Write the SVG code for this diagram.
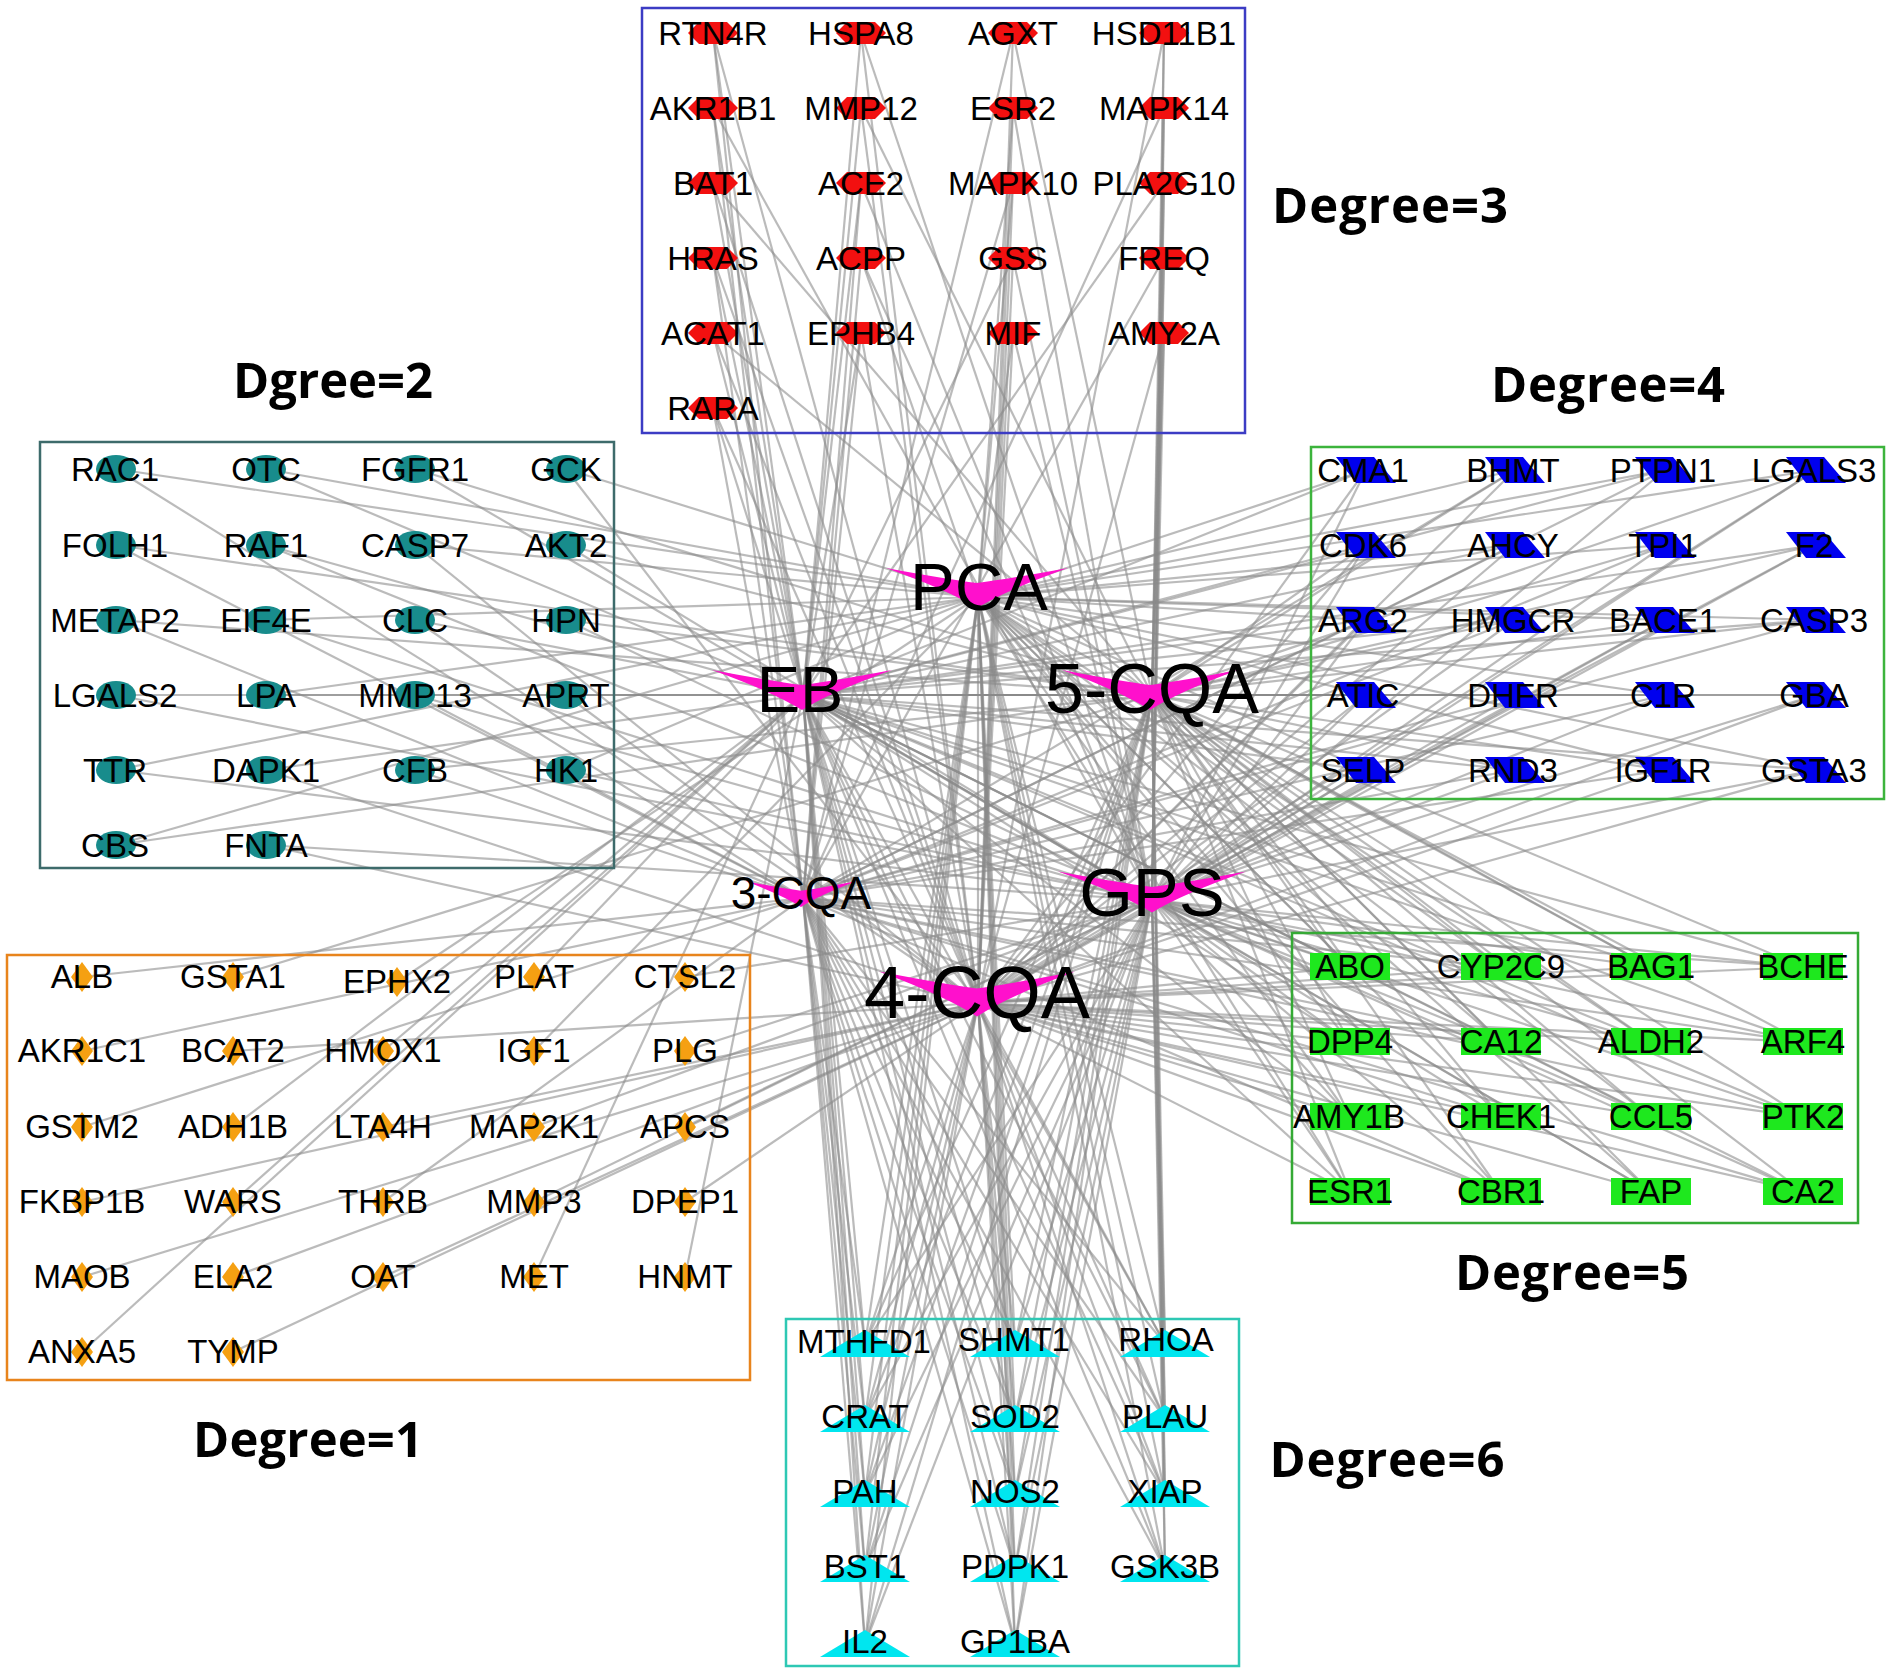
<svg xmlns="http://www.w3.org/2000/svg" xmlns:xlink="http://www.w3.org/1999/xlink" width="1890" height="1669" viewBox="0 0 1890 1669">
<style>
.t{font-family:"Liberation Sans",Arial,sans-serif;font-size:33px;text-anchor:middle;fill:#000}
.h{font-family:"Liberation Sans",Arial,sans-serif;text-anchor:middle;fill:#000}
.d{font-family:"Open Sans","Noto Sans",sans-serif;font-weight:700;font-size:49px;text-anchor:middle;fill:#000}
.box{fill:none;stroke-width:2.5}
#connectors path{fill:none;stroke:#8a8a8a;stroke-opacity:.58;stroke-width:2.2}
.hx{fill:#f21010}.el{fill:#188c8c}.pg{fill:#0000ee}.rc{fill:#1ee81e}.dm{fill:#f5a012}.tr{fill:#00e6ef}.vv{fill:#ff10cc}
</style>
<defs>
<polygon id="hx" points="-25,0 -14,-11 14,-11 25,0 14,11 -14,11"/>
<ellipse id="el" rx="20" ry="14"/>
<polygon id="pg" points="-30,-13 8,-13 30,13 -10,13"/>
<rect id="rc" x="-40" y="-14" width="80" height="27"/>
<polygon id="dm" points="0,-15 11,0 0,15 -11,0"/>
<polygon id="tr" points="0,-27 45,0 -45,0"/>
<path id="vv" d="M-1,-1 Q-0.35,-0.45 0,-0.25 Q0.35,-0.45 1,-1 Q0.32,0.1 0,1 Q-0.32,0.1 -1,-1 Z"/>
</defs>
<rect width="1890" height="1669" fill="#fff"/>
<g id="connectors">
<path d="M978 597L397 982"/><path d="M978 597L534 1051"/><path d="M978 597L116 469"/><path d="M978 597L266 469"/><path d="M978 597L566 469"/><path d="M978 597L415 545"/><path d="M978 597L266 620"/><path d="M978 597L266 695"/><path d="M978 597L116 770"/><path d="M978 597L566 770"/><path d="M978 597L116 845"/><path d="M978 597L1013 108"/><path d="M978 597L1013 183"/><path d="M978 597L861 258"/><path d="M978 597L1013 333"/>
<path d="M978 597L1366 470"/><path d="M978 597L1515 470"/><path d="M978 597L1665 470"/><path d="M978 597L1816 470"/><path d="M978 597L1515 545"/><path d="M978 597L1665 545"/><path d="M978 597L1366 620"/><path d="M978 597L1665 620"/><path d="M978 597L1816 620"/><path d="M978 597L1665 695"/><path d="M978 597L1366 770"/><path d="M978 597L1665 770"/><path d="M978 597L1816 770"/>
<path d="M978 597L1350 967"/><path d="M978 597L1501 967"/><path d="M978 597L1651 967"/><path d="M978 597L1350 1042"/><path d="M978 597L1501 1042"/><path d="M978 597L1651 1042"/><path d="M978 597L1350 1117"/><path d="M978 597L1501 1117"/><path d="M978 597L1651 1117"/><path d="M978 597L1350 1192"/><path d="M978 597L1501 1192"/><path d="M978 597L1651 1192"/>
<path d="M978 597L865 1344"/><path d="M978 597L1015 1344"/><path d="M978 597L1165 1344"/><path d="M978 597L865 1419"/><path d="M978 597L1015 1419"/><path d="M978 597L1165 1419"/><path d="M978 597L865 1494"/><path d="M978 597L1015 1494"/><path d="M978 597L1165 1494"/><path d="M978 597L865 1569"/><path d="M978 597L1015 1569"/><path d="M978 597L1165 1569"/><path d="M978 597L865 1644"/><path d="M978 597L1015 1644"/>
<path d="M978 597L978 1003"/>
<path d="M803 695L534 977"/><path d="M803 695L383 1051"/><path d="M803 695L233 1127"/><path d="M803 695L233 1202"/><path d="M803 695L534 1277"/><path d="M803 695L685 1277"/><path d="M803 695L82 1352"/>
<path d="M803 695L266 469"/><path d="M803 695L266 545"/><path d="M803 695L415 620"/><path d="M803 695L116 695"/><path d="M803 695L266 770"/>
<path d="M803 695L713 33"/><path d="M803 695L861 33"/><path d="M803 695L713 108"/><path d="M803 695L861 108"/><path d="M803 695L713 183"/><path d="M803 695L861 183"/><path d="M803 695L1164 183"/><path d="M803 695L713 258"/><path d="M803 695L1013 258"/><path d="M803 695L713 333"/><path d="M803 695L861 333"/><path d="M803 695L713 408"/>
<path d="M803 695L1366 470"/><path d="M803 695L1665 470"/><path d="M803 695L1366 545"/><path d="M803 695L1515 545"/><path d="M803 695L1816 545"/><path d="M803 695L1366 620"/><path d="M803 695L1515 620"/><path d="M803 695L1816 620"/><path d="M803 695L1366 695"/><path d="M803 695L1515 695"/><path d="M803 695L1816 695"/><path d="M803 695L1366 770"/><path d="M803 695L1515 770"/><path d="M803 695L1816 770"/>
<path d="M803 695L1350 967"/><path d="M803 695L1651 967"/><path d="M803 695L1803 967"/><path d="M803 695L1350 1042"/><path d="M803 695L1651 1042"/><path d="M803 695L1803 1042"/><path d="M803 695L1350 1117"/><path d="M803 695L1651 1117"/><path d="M803 695L1803 1117"/><path d="M803 695L1350 1192"/><path d="M803 695L1651 1192"/><path d="M803 695L1803 1192"/>
<path d="M803 695L865 1344"/><path d="M803 695L1015 1344"/><path d="M803 695L1165 1344"/><path d="M803 695L865 1419"/><path d="M803 695L1015 1419"/><path d="M803 695L1165 1419"/><path d="M803 695L865 1494"/><path d="M803 695L1015 1494"/><path d="M803 695L1165 1494"/><path d="M803 695L865 1569"/><path d="M803 695L1015 1569"/><path d="M803 695L1165 1569"/><path d="M803 695L865 1644"/><path d="M803 695L1015 1644"/>
<path d="M803 695L1152 695"/><path d="M803 695L1152 900"/>
<path d="M1152 695L233 977"/>
<path d="M1152 695L415 469"/><path d="M1152 695L116 545"/><path d="M1152 695L566 545"/><path d="M1152 695L116 620"/><path d="M1152 695L566 620"/><path d="M1152 695L266 695"/><path d="M1152 695L566 695"/><path d="M1152 695L415 770"/><path d="M1152 695L116 845"/>
<path d="M1152 695L1013 33"/><path d="M1152 695L1164 33"/><path d="M1152 695L861 108"/><path d="M1152 695L1164 108"/><path d="M1152 695L713 183"/><path d="M1152 695L1164 183"/><path d="M1152 695L1164 258"/><path d="M1152 695L713 333"/><path d="M1152 695L1164 333"/>
<path d="M1152 695L1515 470"/><path d="M1152 695L1816 470"/><path d="M1152 695L1366 545"/><path d="M1152 695L1665 545"/><path d="M1152 695L1816 545"/><path d="M1152 695L1515 620"/><path d="M1152 695L1665 620"/><path d="M1152 695L1816 620"/><path d="M1152 695L1366 695"/><path d="M1152 695L1515 695"/><path d="M1152 695L1665 695"/><path d="M1152 695L1816 695"/><path d="M1152 695L1515 770"/><path d="M1152 695L1665 770"/>
<path d="M1152 695L1350 967"/><path d="M1152 695L1501 967"/><path d="M1152 695L1651 967"/><path d="M1152 695L1803 967"/><path d="M1152 695L1350 1042"/><path d="M1152 695L1501 1042"/><path d="M1152 695L1651 1042"/><path d="M1152 695L1803 1042"/><path d="M1152 695L1350 1117"/><path d="M1152 695L1501 1117"/><path d="M1152 695L1651 1117"/><path d="M1152 695L1803 1117"/><path d="M1152 695L1350 1192"/><path d="M1152 695L1501 1192"/><path d="M1152 695L1651 1192"/><path d="M1152 695L1803 1192"/>
<path d="M1152 695L865 1344"/><path d="M1152 695L1015 1344"/><path d="M1152 695L1165 1344"/><path d="M1152 695L865 1419"/><path d="M1152 695L1015 1419"/><path d="M1152 695L1165 1419"/><path d="M1152 695L865 1494"/><path d="M1152 695L1015 1494"/><path d="M1152 695L1165 1494"/><path d="M1152 695L865 1569"/><path d="M1152 695L1015 1569"/><path d="M1152 695L1165 1569"/><path d="M1152 695L865 1644"/><path d="M1152 695L1015 1644"/>
<path d="M1152 900L685 977"/><path d="M1152 900L685 1051"/><path d="M1152 900L534 1127"/><path d="M1152 900L685 1127"/><path d="M1152 900L534 1202"/>
<path d="M1152 900L415 469"/><path d="M1152 900L266 545"/><path d="M1152 900L566 545"/><path d="M1152 900L266 620"/><path d="M1152 900L566 620"/><path d="M1152 900L116 695"/><path d="M1152 900L415 695"/><path d="M1152 900L116 770"/><path d="M1152 900L566 770"/><path d="M1152 900L266 845"/>
<path d="M1152 900L861 33"/><path d="M1152 900L1164 33"/><path d="M1152 900L713 108"/><path d="M1152 900L1013 108"/><path d="M1152 900L1164 108"/><path d="M1152 900L861 183"/><path d="M1152 900L1164 183"/><path d="M1152 900L861 258"/><path d="M1152 900L1013 258"/><path d="M1152 900L1164 258"/><path d="M1152 900L1013 333"/><path d="M1152 900L1164 333"/>
<path d="M1152 900L1366 470"/><path d="M1152 900L1665 470"/><path d="M1152 900L1816 470"/><path d="M1152 900L1366 545"/><path d="M1152 900L1665 545"/><path d="M1152 900L1816 545"/><path d="M1152 900L1366 620"/><path d="M1152 900L1665 620"/><path d="M1152 900L1366 695"/><path d="M1152 900L1665 695"/><path d="M1152 900L1816 695"/><path d="M1152 900L1366 770"/><path d="M1152 900L1515 770"/><path d="M1152 900L1816 770"/>
<path d="M1152 900L1350 967"/><path d="M1152 900L1501 967"/><path d="M1152 900L1651 967"/><path d="M1152 900L1803 967"/><path d="M1152 900L1350 1042"/><path d="M1152 900L1501 1042"/><path d="M1152 900L1651 1042"/><path d="M1152 900L1803 1042"/><path d="M1152 900L1350 1117"/><path d="M1152 900L1501 1117"/><path d="M1152 900L1651 1117"/><path d="M1152 900L1803 1117"/><path d="M1152 900L1350 1192"/><path d="M1152 900L1501 1192"/><path d="M1152 900L1651 1192"/><path d="M1152 900L1803 1192"/>
<path d="M1152 900L865 1344"/><path d="M1152 900L1015 1344"/><path d="M1152 900L1165 1344"/><path d="M1152 900L865 1419"/><path d="M1152 900L1015 1419"/><path d="M1152 900L1165 1419"/><path d="M1152 900L865 1494"/><path d="M1152 900L1015 1494"/><path d="M1152 900L1165 1494"/><path d="M1152 900L865 1569"/><path d="M1152 900L1015 1569"/><path d="M1152 900L1165 1569"/><path d="M1152 900L865 1644"/><path d="M1152 900L1015 1644"/>
<path d="M803 898L82 977"/><path d="M803 898L82 1051"/><path d="M803 898L82 1127"/><path d="M803 898L383 1202"/>
<path d="M803 898L116 469"/><path d="M803 898L116 545"/><path d="M803 898L116 620"/><path d="M803 898L415 695"/><path d="M803 898L415 770"/>
<path d="M803 898L713 33"/><path d="M803 898L1013 33"/><path d="M803 898L713 108"/><path d="M803 898L1164 108"/><path d="M803 898L861 183"/><path d="M803 898L1013 183"/><path d="M803 898L713 258"/><path d="M803 898L861 258"/><path d="M803 898L1164 258"/><path d="M803 898L861 333"/><path d="M803 898L713 408"/>
<path d="M803 898L1515 470"/><path d="M803 898L1665 470"/><path d="M803 898L1515 545"/><path d="M803 898L1665 545"/><path d="M803 898L1515 620"/><path d="M803 898L1816 620"/><path d="M803 898L1515 695"/><path d="M803 898L1665 695"/><path d="M803 898L1515 770"/><path d="M803 898L1665 770"/>
<path d="M803 898L1501 967"/><path d="M803 898L1803 967"/><path d="M803 898L1501 1042"/><path d="M803 898L1803 1042"/><path d="M803 898L1501 1117"/><path d="M803 898L1803 1117"/><path d="M803 898L1501 1192"/><path d="M803 898L1803 1192"/>
<path d="M803 898L865 1344"/><path d="M803 898L1015 1344"/><path d="M803 898L1165 1344"/><path d="M803 898L865 1419"/><path d="M803 898L1015 1419"/><path d="M803 898L1165 1419"/><path d="M803 898L865 1494"/><path d="M803 898L1015 1494"/><path d="M803 898L1165 1494"/><path d="M803 898L865 1569"/><path d="M803 898L1015 1569"/><path d="M803 898L1165 1569"/><path d="M803 898L865 1644"/><path d="M803 898L1015 1644"/>
<path d="M978 1003L233 1051"/><path d="M978 1003L383 1127"/><path d="M978 1003L82 1202"/><path d="M978 1003L685 1202"/><path d="M978 1003L82 1277"/><path d="M978 1003L233 1277"/><path d="M978 1003L383 1277"/><path d="M978 1003L233 1352"/>
<path d="M978 1003L566 469"/><path d="M978 1003L415 545"/><path d="M978 1003L415 620"/><path d="M978 1003L566 695"/><path d="M978 1003L266 770"/><path d="M978 1003L266 845"/>
<path d="M978 1003L713 33"/><path d="M978 1003L861 33"/><path d="M978 1003L1013 33"/><path d="M978 1003L1164 33"/><path d="M978 1003L861 108"/><path d="M978 1003L1013 108"/><path d="M978 1003L713 183"/><path d="M978 1003L1013 183"/><path d="M978 1003L713 258"/><path d="M978 1003L1013 258"/><path d="M978 1003L713 333"/><path d="M978 1003L861 333"/><path d="M978 1003L1013 333"/><path d="M978 1003L1164 333"/><path d="M978 1003L713 408"/>
<path d="M978 1003L1366 470"/><path d="M978 1003L1515 470"/><path d="M978 1003L1816 470"/><path d="M978 1003L1366 545"/><path d="M978 1003L1515 545"/><path d="M978 1003L1816 545"/><path d="M978 1003L1366 620"/><path d="M978 1003L1515 620"/><path d="M978 1003L1665 620"/><path d="M978 1003L1366 695"/><path d="M978 1003L1515 695"/><path d="M978 1003L1816 695"/><path d="M978 1003L1366 770"/><path d="M978 1003L1665 770"/><path d="M978 1003L1816 770"/>
<path d="M978 1003L1350 967"/><path d="M978 1003L1501 967"/><path d="M978 1003L1651 967"/><path d="M978 1003L1803 967"/><path d="M978 1003L1350 1042"/><path d="M978 1003L1501 1042"/><path d="M978 1003L1651 1042"/><path d="M978 1003L1803 1042"/><path d="M978 1003L1350 1117"/><path d="M978 1003L1501 1117"/><path d="M978 1003L1651 1117"/><path d="M978 1003L1803 1117"/><path d="M978 1003L1350 1192"/><path d="M978 1003L1501 1192"/><path d="M978 1003L1651 1192"/><path d="M978 1003L1803 1192"/>
<path d="M978 1003L865 1344"/><path d="M978 1003L1015 1344"/><path d="M978 1003L1165 1344"/><path d="M978 1003L865 1419"/><path d="M978 1003L1015 1419"/><path d="M978 1003L1165 1419"/><path d="M978 1003L865 1494"/><path d="M978 1003L1015 1494"/><path d="M978 1003L1165 1494"/><path d="M978 1003L865 1569"/><path d="M978 1003L1015 1569"/><path d="M978 1003L1165 1569"/><path d="M978 1003L865 1644"/><path d="M978 1003L1015 1644"/>
</g>
<g id="groups">
<rect id="box-deg3" class="box" x="642" y="8" width="603" height="425" stroke="#3c3cc4"/>
<rect id="box-deg2" class="box" x="40" y="442" width="574" height="426" stroke="#3d6b6b"/>
<rect id="box-deg4" class="box" x="1311" y="447" width="573" height="352" stroke="#3cb43c"/>
<rect id="box-deg5" class="box" x="1292" y="933" width="566" height="290" stroke="#35aa35"/>
<rect id="box-deg1" class="box" x="7" y="955" width="743" height="425" stroke="#e8841c"/>
<rect id="box-deg6" class="box" x="786" y="1319" width="453" height="347" stroke="#2ec8b4"/>
</g>
<g id="headings">
<text class="d" x="1390" y="223" textLength="236" lengthAdjust="spacing">Degree=3</text>
<text class="d" x="333" y="398" textLength="200" lengthAdjust="spacing">Dgree=2</text>
<text class="d" x="1608" y="402" textLength="234" lengthAdjust="spacing">Degree=4</text>
<text class="d" x="1572" y="1290" textLength="234" lengthAdjust="spacing">Degree=5</text>
<text class="d" x="308" y="1457" textLength="230" lengthAdjust="spacing">Degree=1</text>
<text class="d" x="1387" y="1477" textLength="235" lengthAdjust="spacing">Degree=6</text>
</g>
<g id="hubs">
<g id="n-PCA"><use href="#vv" class="vv" transform="translate(977 588) scale(91 20)"/><text class="h" x="979" y="610" font-size="67">PCA</text></g>
<g id="n-EB"><use href="#vv" class="vv" transform="translate(802 690) scale(90 20)"/><text class="h" x="800" y="712" font-size="65">EB</text></g>
<g id="n-5-CQA"><use href="#vv" class="vv" transform="translate(1150 690) scale(88 20)"/><text class="h" x="1152" y="713" font-size="70">5-CQA</text></g>
<g id="n-GPS"><use href="#vv" class="vv" transform="translate(1152 892) scale(94 20.5)"/><text class="h" x="1152" y="916" font-size="69">GPS</text></g>
<g id="n-3-CQA"><use href="#vv" class="vv" transform="translate(801 894) scale(56 13)"/><text class="h" x="801" y="909" font-size="46">3-CQA</text></g>
<g id="n-4-CQA"><use href="#vv" class="vv" transform="translate(977 994) scale(98 22.5)"/><text class="h" x="977" y="1018" font-size="74">4-CQA</text></g>
</g>
<g id="deg3">
<g id="n-RTN4R"><use href="#hx" class="hx" x="713" y="33"/><text class="t" x="713" y="45">RTN4R</text></g>
<g id="n-HSPA8"><use href="#hx" class="hx" x="861" y="33"/><text class="t" x="861" y="45">HSPA8</text></g>
<g id="n-AGXT"><use href="#hx" class="hx" x="1013" y="33"/><text class="t" x="1013" y="45">AGXT</text></g>
<g id="n-HSD11B1"><use href="#hx" class="hx" x="1164" y="33"/><text class="t" x="1164" y="45">HSD11B1</text></g>
<g id="n-AKR1B1"><use href="#hx" class="hx" x="713" y="108"/><text class="t" x="713" y="120">AKR1B1</text></g>
<g id="n-MMP12"><use href="#hx" class="hx" x="861" y="108"/><text class="t" x="861" y="120">MMP12</text></g>
<g id="n-ESR2"><use href="#hx" class="hx" x="1013" y="108"/><text class="t" x="1013" y="120">ESR2</text></g>
<g id="n-MAPK14"><use href="#hx" class="hx" x="1164" y="108"/><text class="t" x="1164" y="120">MAPK14</text></g>
<g id="n-BAT1"><use href="#hx" class="hx" x="713" y="183"/><text class="t" x="713" y="195">BAT1</text></g>
<g id="n-ACE2"><use href="#hx" class="hx" x="861" y="183"/><text class="t" x="861" y="195">ACE2</text></g>
<g id="n-MAPK10"><use href="#hx" class="hx" x="1013" y="183"/><text class="t" x="1013" y="195">MAPK10</text></g>
<g id="n-PLA2G10"><use href="#hx" class="hx" x="1164" y="183"/><text class="t" x="1164" y="195">PLA2G10</text></g>
<g id="n-HRAS"><use href="#hx" class="hx" x="713" y="258"/><text class="t" x="713" y="270">HRAS</text></g>
<g id="n-ACPP"><use href="#hx" class="hx" x="861" y="258"/><text class="t" x="861" y="270">ACPP</text></g>
<g id="n-GSS"><use href="#hx" class="hx" x="1013" y="258"/><text class="t" x="1013" y="270">GSS</text></g>
<g id="n-FREQ"><use href="#hx" class="hx" x="1164" y="258"/><text class="t" x="1164" y="270">FREQ</text></g>
<g id="n-ACAT1"><use href="#hx" class="hx" x="713" y="333"/><text class="t" x="713" y="345">ACAT1</text></g>
<g id="n-EPHB4"><use href="#hx" class="hx" x="861" y="333"/><text class="t" x="861" y="345">EPHB4</text></g>
<g id="n-MIF"><use href="#hx" class="hx" x="1013" y="333"/><text class="t" x="1013" y="345">MIF</text></g>
<g id="n-AMY2A"><use href="#hx" class="hx" x="1164" y="333"/><text class="t" x="1164" y="345">AMY2A</text></g>
<g id="n-RARA"><use href="#hx" class="hx" x="713" y="408"/><text class="t" x="713" y="420">RARA</text></g>
</g>
<g id="deg2">
<g id="n-RAC1"><use href="#el" class="el" x="116" y="469"/><text class="t" x="115" y="481">RAC1</text></g>
<g id="n-OTC"><use href="#el" class="el" x="266" y="469"/><text class="t" x="266" y="481">OTC</text></g>
<g id="n-FGFR1"><use href="#el" class="el" x="415" y="469"/><text class="t" x="415" y="481">FGFR1</text></g>
<g id="n-GCK"><use href="#el" class="el" x="566" y="469"/><text class="t" x="566" y="481">GCK</text></g>
<g id="n-FOLH1"><use href="#el" class="el" x="116" y="545"/><text class="t" x="115" y="557">FOLH1</text></g>
<g id="n-RAF1"><use href="#el" class="el" x="266" y="545"/><text class="t" x="266" y="557">RAF1</text></g>
<g id="n-CASP7"><use href="#el" class="el" x="415" y="545"/><text class="t" x="415" y="557">CASP7</text></g>
<g id="n-AKT2"><use href="#el" class="el" x="566" y="545"/><text class="t" x="566" y="557">AKT2</text></g>
<g id="n-METAP2"><use href="#el" class="el" x="116" y="620"/><text class="t" x="115" y="632">METAP2</text></g>
<g id="n-EIF4E"><use href="#el" class="el" x="266" y="620"/><text class="t" x="266" y="632">EIF4E</text></g>
<g id="n-CLC"><use href="#el" class="el" x="415" y="620"/><text class="t" x="415" y="632">CLC</text></g>
<g id="n-HPN"><use href="#el" class="el" x="566" y="620"/><text class="t" x="566" y="632">HPN</text></g>
<g id="n-LGALS2"><use href="#el" class="el" x="116" y="695"/><text class="t" x="115" y="707">LGALS2</text></g>
<g id="n-LPA"><use href="#el" class="el" x="266" y="695"/><text class="t" x="266" y="707">LPA</text></g>
<g id="n-MMP13"><use href="#el" class="el" x="415" y="695"/><text class="t" x="415" y="707">MMP13</text></g>
<g id="n-APRT"><use href="#el" class="el" x="566" y="695"/><text class="t" x="566" y="707">APRT</text></g>
<g id="n-TTR"><use href="#el" class="el" x="116" y="770"/><text class="t" x="115" y="782">TTR</text></g>
<g id="n-DAPK1"><use href="#el" class="el" x="266" y="770"/><text class="t" x="266" y="782">DAPK1</text></g>
<g id="n-CFB"><use href="#el" class="el" x="415" y="770"/><text class="t" x="415" y="782">CFB</text></g>
<g id="n-HK1"><use href="#el" class="el" x="566" y="770"/><text class="t" x="566" y="782">HK1</text></g>
<g id="n-CBS"><use href="#el" class="el" x="116" y="845"/><text class="t" x="115" y="857">CBS</text></g>
<g id="n-FNTA"><use href="#el" class="el" x="266" y="845"/><text class="t" x="266" y="857">FNTA</text></g>
</g>
<g id="deg4">
<g id="n-CMA1"><use href="#pg" class="pg" x="1366" y="470"/><text class="t" x="1363" y="482">CMA1</text></g>
<g id="n-BHMT"><use href="#pg" class="pg" x="1515" y="470"/><text class="t" x="1513" y="482">BHMT</text></g>
<g id="n-PTPN1"><use href="#pg" class="pg" x="1665" y="470"/><text class="t" x="1663" y="482">PTPN1</text></g>
<g id="n-LGALS3"><use href="#pg" class="pg" x="1816" y="470"/><text class="t" x="1814" y="482">LGALS3</text></g>
<g id="n-CDK6"><use href="#pg" class="pg" x="1366" y="545"/><text class="t" x="1363" y="557">CDK6</text></g>
<g id="n-AHCY"><use href="#pg" class="pg" x="1515" y="545"/><text class="t" x="1513" y="557">AHCY</text></g>
<g id="n-TPI1"><use href="#pg" class="pg" x="1665" y="545"/><text class="t" x="1663" y="557">TPI1</text></g>
<g id="n-F2"><use href="#pg" class="pg" x="1816" y="545"/><text class="t" x="1814" y="557">F2</text></g>
<g id="n-ARG2"><use href="#pg" class="pg" x="1366" y="620"/><text class="t" x="1363" y="632">ARG2</text></g>
<g id="n-HMGCR"><use href="#pg" class="pg" x="1515" y="620"/><text class="t" x="1513" y="632">HMGCR</text></g>
<g id="n-BACE1"><use href="#pg" class="pg" x="1665" y="620"/><text class="t" x="1663" y="632">BACE1</text></g>
<g id="n-CASP3"><use href="#pg" class="pg" x="1816" y="620"/><text class="t" x="1814" y="632">CASP3</text></g>
<g id="n-ATIC"><use href="#pg" class="pg" x="1366" y="695"/><text class="t" x="1363" y="707">ATIC</text></g>
<g id="n-DHFR"><use href="#pg" class="pg" x="1515" y="695"/><text class="t" x="1513" y="707">DHFR</text></g>
<g id="n-C1R"><use href="#pg" class="pg" x="1665" y="695"/><text class="t" x="1663" y="707">C1R</text></g>
<g id="n-GBA"><use href="#pg" class="pg" x="1816" y="695"/><text class="t" x="1814" y="707">GBA</text></g>
<g id="n-SELP"><use href="#pg" class="pg" x="1366" y="770"/><text class="t" x="1363" y="782">SELP</text></g>
<g id="n-RND3"><use href="#pg" class="pg" x="1515" y="770"/><text class="t" x="1513" y="782">RND3</text></g>
<g id="n-IGF1R"><use href="#pg" class="pg" x="1665" y="770"/><text class="t" x="1663" y="782">IGF1R</text></g>
<g id="n-GSTA3"><use href="#pg" class="pg" x="1816" y="770"/><text class="t" x="1814" y="782">GSTA3</text></g>
</g>
<g id="deg5">
<g id="n-ABO"><use href="#rc" class="rc" x="1350" y="967"/><text class="t" x="1350" y="978">ABO</text></g>
<g id="n-CYP2C9"><use href="#rc" class="rc" x="1501" y="967"/><text class="t" x="1501" y="978">CYP2C9</text></g>
<g id="n-BAG1"><use href="#rc" class="rc" x="1651" y="967"/><text class="t" x="1651" y="978">BAG1</text></g>
<g id="n-BCHE"><use href="#rc" class="rc" x="1803" y="967"/><text class="t" x="1803" y="978">BCHE</text></g>
<g id="n-DPP4"><use href="#rc" class="rc" x="1350" y="1042"/><text class="t" x="1350" y="1053">DPP4</text></g>
<g id="n-CA12"><use href="#rc" class="rc" x="1501" y="1042"/><text class="t" x="1501" y="1053">CA12</text></g>
<g id="n-ALDH2"><use href="#rc" class="rc" x="1651" y="1042"/><text class="t" x="1651" y="1053">ALDH2</text></g>
<g id="n-ARF4"><use href="#rc" class="rc" x="1803" y="1042"/><text class="t" x="1803" y="1053">ARF4</text></g>
<g id="n-AMY1B"><use href="#rc" class="rc" x="1350" y="1117"/><text class="t" x="1349" y="1128">AMY1B</text></g>
<g id="n-CHEK1"><use href="#rc" class="rc" x="1501" y="1117"/><text class="t" x="1501" y="1128">CHEK1</text></g>
<g id="n-CCL5"><use href="#rc" class="rc" x="1651" y="1117"/><text class="t" x="1651" y="1128">CCL5</text></g>
<g id="n-PTK2"><use href="#rc" class="rc" x="1803" y="1117"/><text class="t" x="1803" y="1128">PTK2</text></g>
<g id="n-ESR1"><use href="#rc" class="rc" x="1350" y="1192"/><text class="t" x="1350" y="1203">ESR1</text></g>
<g id="n-CBR1"><use href="#rc" class="rc" x="1501" y="1192"/><text class="t" x="1501" y="1203">CBR1</text></g>
<g id="n-FAP"><use href="#rc" class="rc" x="1651" y="1192"/><text class="t" x="1651" y="1203">FAP</text></g>
<g id="n-CA2"><use href="#rc" class="rc" x="1803" y="1192"/><text class="t" x="1803" y="1203">CA2</text></g>
</g>
<g id="deg1">
<g id="n-ALB"><use href="#dm" class="dm" x="82" y="977"/><text class="t" x="82" y="988">ALB</text></g>
<g id="n-GSTA1"><use href="#dm" class="dm" x="233" y="977"/><text class="t" x="233" y="988">GSTA1</text></g>
<g id="n-EPHX2"><use href="#dm" class="dm" x="397" y="982"/><text class="t" x="397" y="993">EPHX2</text></g>
<g id="n-PLAT"><use href="#dm" class="dm" x="534" y="977"/><text class="t" x="534" y="988">PLAT</text></g>
<g id="n-CTSL2"><use href="#dm" class="dm" x="685" y="977"/><text class="t" x="685" y="988">CTSL2</text></g>
<g id="n-AKR1C1"><use href="#dm" class="dm" x="82" y="1051"/><text class="t" x="82" y="1062">AKR1C1</text></g>
<g id="n-BCAT2"><use href="#dm" class="dm" x="233" y="1051"/><text class="t" x="233" y="1062">BCAT2</text></g>
<g id="n-HMOX1"><use href="#dm" class="dm" x="383" y="1051"/><text class="t" x="383" y="1062">HMOX1</text></g>
<g id="n-IGF1"><use href="#dm" class="dm" x="534" y="1051"/><text class="t" x="534" y="1062">IGF1</text></g>
<g id="n-PLG"><use href="#dm" class="dm" x="685" y="1051"/><text class="t" x="685" y="1062">PLG</text></g>
<g id="n-GSTM2"><use href="#dm" class="dm" x="82" y="1127"/><text class="t" x="82" y="1138">GSTM2</text></g>
<g id="n-ADH1B"><use href="#dm" class="dm" x="233" y="1127"/><text class="t" x="233" y="1138">ADH1B</text></g>
<g id="n-LTA4H"><use href="#dm" class="dm" x="383" y="1127"/><text class="t" x="383" y="1138">LTA4H</text></g>
<g id="n-MAP2K1"><use href="#dm" class="dm" x="534" y="1127"/><text class="t" x="534" y="1138">MAP2K1</text></g>
<g id="n-APCS"><use href="#dm" class="dm" x="685" y="1127"/><text class="t" x="685" y="1138">APCS</text></g>
<g id="n-FKBP1B"><use href="#dm" class="dm" x="82" y="1202"/><text class="t" x="82" y="1213">FKBP1B</text></g>
<g id="n-WARS"><use href="#dm" class="dm" x="233" y="1202"/><text class="t" x="233" y="1213">WARS</text></g>
<g id="n-THRB"><use href="#dm" class="dm" x="383" y="1202"/><text class="t" x="383" y="1213">THRB</text></g>
<g id="n-MMP3"><use href="#dm" class="dm" x="534" y="1202"/><text class="t" x="534" y="1213">MMP3</text></g>
<g id="n-DPEP1"><use href="#dm" class="dm" x="685" y="1202"/><text class="t" x="685" y="1213">DPEP1</text></g>
<g id="n-MAOB"><use href="#dm" class="dm" x="82" y="1277"/><text class="t" x="82" y="1288">MAOB</text></g>
<g id="n-ELA2"><use href="#dm" class="dm" x="233" y="1277"/><text class="t" x="233" y="1288">ELA2</text></g>
<g id="n-OAT"><use href="#dm" class="dm" x="383" y="1277"/><text class="t" x="383" y="1288">OAT</text></g>
<g id="n-MET"><use href="#dm" class="dm" x="534" y="1277"/><text class="t" x="534" y="1288">MET</text></g>
<g id="n-HNMT"><use href="#dm" class="dm" x="685" y="1277"/><text class="t" x="685" y="1288">HNMT</text></g>
<g id="n-ANXA5"><use href="#dm" class="dm" x="82" y="1352"/><text class="t" x="82" y="1363">ANXA5</text></g>
<g id="n-TYMP"><use href="#dm" class="dm" x="233" y="1352"/><text class="t" x="233" y="1363">TYMP</text></g>
</g>
<g id="deg6">
<g id="n-MTHFD1"><use href="#tr" class="tr" x="865" y="1357"/><text class="t" x="864" y="1353">MTHFD1</text></g>
<g id="n-SHMT1"><use href="#tr" class="tr" x="1015" y="1357"/><text class="t" x="1014" y="1351">SHMT1</text></g>
<g id="n-RHOA"><use href="#tr" class="tr" x="1165" y="1357"/><text class="t" x="1166" y="1351">RHOA</text></g>
<g id="n-CRAT"><use href="#tr" class="tr" x="865" y="1432"/><text class="t" x="865" y="1428">CRAT</text></g>
<g id="n-SOD2"><use href="#tr" class="tr" x="1015" y="1432"/><text class="t" x="1015" y="1428">SOD2</text></g>
<g id="n-PLAU"><use href="#tr" class="tr" x="1165" y="1432"/><text class="t" x="1165" y="1428">PLAU</text></g>
<g id="n-PAH"><use href="#tr" class="tr" x="865" y="1507"/><text class="t" x="865" y="1503">PAH</text></g>
<g id="n-NOS2"><use href="#tr" class="tr" x="1015" y="1507"/><text class="t" x="1015" y="1503">NOS2</text></g>
<g id="n-XIAP"><use href="#tr" class="tr" x="1165" y="1507"/><text class="t" x="1165" y="1503">XIAP</text></g>
<g id="n-BST1"><use href="#tr" class="tr" x="865" y="1582"/><text class="t" x="865" y="1578">BST1</text></g>
<g id="n-PDPK1"><use href="#tr" class="tr" x="1015" y="1582"/><text class="t" x="1015" y="1578">PDPK1</text></g>
<g id="n-GSK3B"><use href="#tr" class="tr" x="1165" y="1582"/><text class="t" x="1165" y="1578">GSK3B</text></g>
<g id="n-IL2"><use href="#tr" class="tr" x="865" y="1657"/><text class="t" x="865" y="1653">IL2</text></g>
<g id="n-GP1BA"><use href="#tr" class="tr" x="1015" y="1657"/><text class="t" x="1015" y="1653">GP1BA</text></g>
</g>
</svg>
